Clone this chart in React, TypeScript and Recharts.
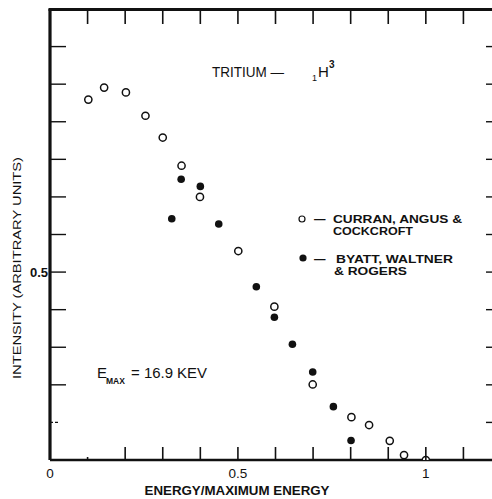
import { ScatterChart, Scatter, XAxis, YAxis } from "recharts";

// Curran, Angus & Cockcroft (open circles)
const curranX = [0.102, 0.144, 0.202, 0.254, 0.3, 0.35, 0.399, 0.501, 0.597, 0.699, 0.802, 0.849, 0.904, 0.942, 1.0];
const curranY = [0.959, 0.991, 0.978, 0.916, 0.858, 0.783, 0.7, 0.556, 0.408, 0.201, 0.114, 0.093, 0.051, 0.013, 0.0];

// Byatt, Waltner & Rogers (filled circles)
const byattX = [0.324, 0.349, 0.4, 0.449, 0.549, 0.597, 0.645, 0.699, 0.754, 0.801];
const byattY = [0.642, 0.747, 0.728, 0.628, 0.461, 0.38, 0.308, 0.234, 0.142, 0.052];

const xTicks = [0, 0.1, 0.2, 0.3, 0.4, 0.5, 0.6, 0.7, 0.8, 0.9, 1.0, 1.1, 1.2];
const yTicks = [0, 0.1, 0.2, 0.3, 0.4, 0.5, 0.6, 0.7, 0.8, 0.9, 1.0, 1.1, 1.2];
const xLabels: Record<string, string> = { "0": "0", "0.5": "0.5", "1": "1" };
const yLabels: Record<string, string> = { "0.5": "0.5" };

const curran = curranX.map((x, i) => ({ x, y: curranY[i] }));
const byatt = byattX.map((x, i) => ({ x, y: byattY[i] }));

const FONT = "'Liberation Sans', Arial, sans-serif";
const INK = "#111";

const tickLen = (v: number) => (Math.abs(v - 0.1) < 1e-6 ? 3 : v === 0 || v >= 1.2 ? 0 : 13);

const BottomTick = (p: any) => {
  const v = p.payload.value;
  const len = tickLen(v);
  const lab = xLabels[String(v)];
  return (
    <g>
      {len > 0 && <line x1={p.x} x2={p.x} y1={p.y} y2={p.y - len} stroke={INK} strokeWidth={1.6} />}
      {lab && (
        <text x={p.x} y={p.y + 18} textAnchor="middle" fontSize={13.5} fontFamily={FONT} fill={INK}>
          {lab}
        </text>
      )}
    </g>
  );
};

const TopTick = (p: any) => {
  const len = tickLen(p.payload.value);
  return len > 0 ? <line x1={p.x} x2={p.x} y1={p.y} y2={p.y + 15} stroke={INK} strokeWidth={1.6} /> : <g />;
};

const LeftTick = (p: any) => {
  const v = p.payload.value;
  const len = Math.abs(v - 0.1) < 1e-6 ? 8 : v === 0 || v >= 1.2 ? 0 : 16;
  const lab = yLabels[String(v)];
  return (
    <g>
      {len > 0 && (
        <line x1={p.x} x2={p.x + len} y1={p.y} y2={p.y} stroke={INK} strokeWidth={1.4}
          strokeDasharray={len === 8 ? "3 2" : undefined} />
      )}
      {lab && (
        <text x={p.x - 2} y={p.y + 5} textAnchor="end" fontSize={13} fontFamily={FONT} fontWeight="bold" fill={INK}>
          {lab}
        </text>
      )}
    </g>
  );
};

const RightTick = (p: any) => {
  const v = p.payload.value;
  const len = v === 0 || v >= 1.2 ? 0 : 15;
  return len > 0 ? <line x1={p.x} x2={p.x - len} y1={p.y} y2={p.y} stroke={INK} strokeWidth={1.4} /> : <g />;
};

const OpenDot = (p: any) => <circle cx={p.cx} cy={p.cy} r={3.6} fill="#fff" stroke={INK} strokeWidth={1.5} />;
const FilledDot = (p: any) => <circle cx={p.cx} cy={p.cy} r={3.8} fill={INK} />;

const txt = { fontFamily: FONT, fill: INK, fontWeight: "bold" as const };

export default function App() {
  return (
    <div style={{ position: "absolute", left: 0, top: 0, width: 492, height: 499, overflow: "hidden", background: "#fff" }}>
      <ScatterChart width={512} height={499} margin={{ top: 8, right: 1, bottom: 1, left: 10 }}>
        <XAxis xAxisId="b" type="number" dataKey="x" domain={[0, 1.2]} ticks={xTicks} orientation="bottom"
          height={38} tickSize={0} tickMargin={0} tickLine={false} tick={<BottomTick />} interval={0}
          axisLine={{ stroke: INK, strokeWidth: 2.6 }} allowDataOverflow />
        <XAxis xAxisId="t" type="number" dataKey="x" domain={[0, 1.2]} ticks={xTicks} orientation="top"
          height={1} tickSize={0} tickMargin={0} tickLine={false} tick={<TopTick />} interval={0}
          axisLine={false} allowDataOverflow />
        <YAxis yAxisId="l" type="number" dataKey="y" domain={[0, 1.2]} ticks={yTicks} orientation="left"
          width={40} tickSize={0} tickMargin={0} tickLine={false} tick={<LeftTick />} interval={0}
          axisLine={{ stroke: INK, strokeWidth: 3.2 }} allowDataOverflow />
        <YAxis yAxisId="r" type="number" dataKey="y" domain={[0, 1.2]} ticks={yTicks} orientation="right"
          width={10} tickSize={0} tickMargin={0} tickLine={false} tick={<RightTick />} interval={0}
          axisLine={{ stroke: INK, strokeWidth: 2.6 }} allowDataOverflow />
        <Scatter data={curran} xAxisId="b" yAxisId="l" shape={<OpenDot />} isAnimationActive={false} />
        <Scatter data={byatt} xAxisId="b" yAxisId="l" shape={<FilledDot />} isAnimationActive={false} />
      </ScatterChart>
      <svg width={492} height={499} style={{ position: "absolute", left: 0, top: 0, pointerEvents: "none" }}>
        {/* top edge of the frame */}
        <rect x={48.5} y={8} width={444} height={3} fill={INK} />

        <text x={212} y={77} fontSize={15} {...txt} fontWeight="normal" textLength={72} lengthAdjust="spacingAndGlyphs">
          TRITIUM —
        </text>
        <text x={312} y={81} fontSize={9} {...txt} fontWeight="normal">1</text>
        <text x={318} y={77} fontSize={15} {...txt} fontWeight="normal">H</text>
        <text x={329} y={68} fontSize={10} {...txt}>3</text>

        <circle cx={302} cy={219} r={3} fill="#fff" stroke={INK} strokeWidth={1.2} />
        <text x={314} y={223} fontSize={11.5} {...txt}>—</text>
        <text x={333} y={223} fontSize={11.5} {...txt} textLength={129} lengthAdjust="spacingAndGlyphs">CURRAN, ANGUS &amp;</text>
        <text x={333} y={235} fontSize={11.5} {...txt} textLength={80} lengthAdjust="spacingAndGlyphs">COCKCROFT</text>
        <circle cx={303} cy={258} r={3.6} fill={INK} />
        <text x={314} y={263} fontSize={11.5} {...txt}>—</text>
        <text x={336} y={263} fontSize={11.5} {...txt} textLength={117} lengthAdjust="spacingAndGlyphs">BYATT, WALTNER</text>
        <text x={334} y={275} fontSize={11.5} {...txt} textLength={73} lengthAdjust="spacingAndGlyphs">&amp; ROGERS</text>

        <text x={97} y={378} fontSize={15} {...txt} fontWeight="normal">E</text>
        <text x={106} y={384} fontSize={8.5} {...txt}>MAX</text>
        <text x={131} y={378} fontSize={14} {...txt} fontWeight="normal" textLength={76} lengthAdjust="spacingAndGlyphs">= 16.9 KEV</text>

        <text x={237} y={495} fontSize={12} {...txt} textAnchor="middle" textLength={185} lengthAdjust="spacingAndGlyphs">
          ENERGY/MAXIMUM ENERGY
        </text>
        <text x={0} y={0} fontSize={11} {...txt} fontWeight="normal" textAnchor="middle"
          transform="translate(21 268) rotate(-90)" textLength={222} lengthAdjust="spacingAndGlyphs">
          INTENSITY (ARBITRARY UNITS)
        </text>
      </svg>
    </div>
  );
}
